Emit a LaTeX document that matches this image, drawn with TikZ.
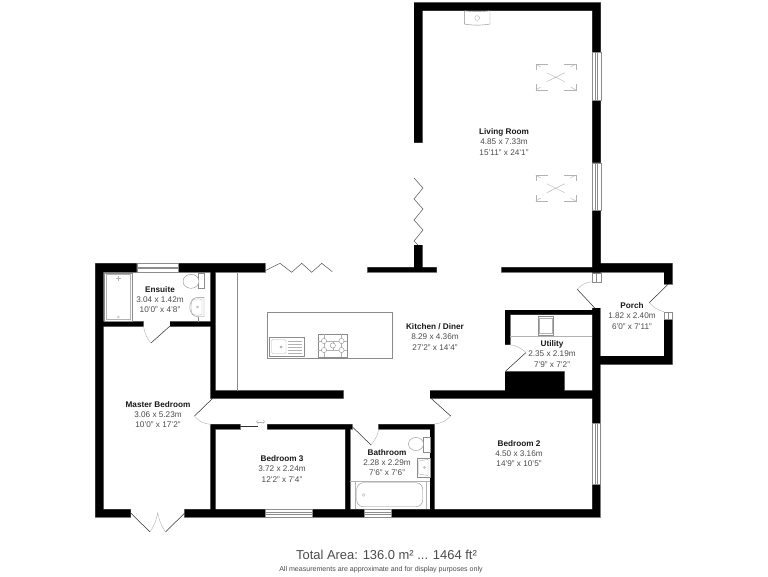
\documentclass[tikz,border=0pt]{standalone}
\usepackage{fontspec}
\setmainfont{Liberation Sans}
\newcommand{\wallset}[1]{\path[#1]
 (414,2.7) rectangle (600.7,10.7)
 (414,2.7) rectangle (422.3,142.7)
 (592.3,2.7) rectangle (600.7,52.3)
 (592.3,100) rectangle (600.7,162.7)
 (592.3,210) rectangle (600.7,272.7)
 (592.3,308) rectangle (600,517)
 (414,245) rectangle (422.3,272)
 (367.7,267.3) rectangle (436.7,272)
 (501.7,267.3) rectangle (600,272)
 (592.3,263.3) rectangle (672.3,272)
 (664,263.3) rectangle (672.3,284)
 (664,319) rectangle (672.3,364.3)
 (592.3,356) rectangle (672.3,364.3)
 (95.3,263.3) rectangle (136.7,272)
 (177.7,263.3) rectangle (265,272)
 (95.3,263.3) rectangle (103.3,517)
 (103,321.7) rectangle (143.3,326.3)
 (170,321.7) rectangle (211,326.3)
 (210.7,272) rectangle (215.3,398.3)
 (210.7,390.7) rectangle (343.3,398.3)
 (430,390.7) rectangle (600,398.3)
 (505,310) rectangle (592.3,314.7)
 (505,310) rectangle (510,344.7)
 (505,371.7) rectangle (564.3,391)
 (210.7,424.3) rectangle (240,429)
 (267.3,424.3) rectangle (352,429)
 (378.7,424.3) rectangle (434.3,429)
 (210.7,424.3) rectangle (215.3,510)
 (345.3,424.3) rectangle (350,510)
 (430,424.3) rectangle (434.3,510)
 (95.3,509.3) rectangle (130.7,517)
 (184.7,509.3) rectangle (265.3,517)
 (312.3,509.3) rectangle (364,517)
 (390.7,509.3) rectangle (600,517);}
\tikzset{
 fix/.style={draw=black!45,line width=.3pt,fill=white},
 thin line/.style={draw=black!45,line width=.3pt},
 leaf/.style={draw=black!80,line width=.4pt},
 swing/.style={draw=black!30,line width=.3pt},
 winline/.style={draw=black!45,line width=.3pt},
 roomlabel/.style={align=center,font=\fontsize{6.15}{7.55}\selectfont,text=black!70,inner sep=0pt},
}
\newcommand{\rl}[2]{{\bfseries\color{black!90}#1}\\#2}
\newcommand{\hwin}[4]{\draw[winline,fill=white] (#1,#3) rectangle (#2,#4);
 \draw[winline] (#1,{#3+(#4-#3)*.4}) -- (#2,{#3+(#4-#3)*.4}) (#1,{#3+(#4-#3)*.6}) -- (#2,{#3+(#4-#3)*.6});}
\newcommand{\vwin}[4]{\draw[winline,fill=white] (#1,#3) rectangle (#2,#4);
 \draw[winline] ({#1+(#2-#1)*.4},#3) -- ({#1+(#2-#1)*.4},#4) ({#1+(#2-#1)*.6},#3) -- ({#1+(#2-#1)*.6},#4);}
\newcommand{\skylight}[2]{\begin{scope}[shift={(#1,#2)}]
 \draw[swing] (0,6) -- (0,0) -- (12,0) (28,0) -- (40,0) -- (40,6)
   (0,20) -- (0,26) -- (12,26) (28,26) -- (40,26) -- (40,20);
 \draw[swing] (0,0) -- (5,3) (40,0) -- (35,3) (0,26) -- (5,23) (40,26) -- (35,23);
 \draw[swing] (11,8.7) -- (29,17.7) (11,17.7) -- (29,8.7);
 \end{scope}}
\begin{document}
\begin{tikzpicture}[x=.75pt,y=-.75pt]
\useasboundingbox (0,0) rectangle (768,576);
\fill[white] (0,0) rectangle (768,576);
\wallset{draw=black!45,line width=.5pt}
\wallset{fill=black}
% windows
\hwin{136.7}{177.7}{263.3}{272}
\hwin{265.3}{312.3}{509.3}{517}
\hwin{364}{390.7}{509.3}{517}
\vwin{592.3}{600.7}{52.3}{100}
\vwin{592.3}{600.7}{162.7}{210}
\vwin{592.3}{600}{423.3}{484.3}
% porch door jambs
\draw[winline,fill=white] (592.3,272.7) rectangle (600.7,281.7);
\draw[winline] (596.5,272.7) -- (596.5,281.7);
\draw[winline,fill=white] (664,311.7) rectangle (672.3,319);
\draw[winline] (668.2,311.7) -- (668.2,319);
% fireplace
\draw[thin line] (464.3,10.7) -- (464.3,24) .. controls (472,25.5) and (482,25.5) .. (490,24) -- (490,10.7) .. controls (482,12) and (472,12) .. (464.3,10.7);
\draw[swing] (477.2,18) circle (2.4);
\skylight{535.7}{64}
\skylight{535.7}{175}
% bifold doors
\draw[leaf,draw=black!65] (414,178) -- (423,188) -- (414,199) -- (423,209) -- (414,220) -- (423,230) -- (414,241) -- (418,245);
\draw[leaf,draw=black!65] (265,270.7) -- (280,263.3) -- (291.7,272.3) -- (301.7,263.3) -- (311.7,272.3) -- (321.7,263.3) -- (332.3,271.7);
% kitchen
\draw[thin line] (236.7,272) -- (236.7,391);
\draw[thin line] (267.3,312.3) rectangle (391.7,358.3);
% sink
\draw[fix] (269.3,337.3) rectangle (303.7,356);
\draw[swing,rounded corners=1pt] (271.5,339.5) rectangle (286,353.5);
\draw[thin line] (281,347) circle (1.2);
\foreach \yy in {341,344,347,350,353} \draw[swing] (288,\yy) -- (302,\yy);
% hob
\draw[fix] (318.3,334.3) rectangle (347,356.7);
\draw[swing] (318.3,341) -- (347,341) (318.3,350) -- (347,350) (324,334.3) -- (324,356.7) (341.5,334.3) -- (341.5,356.7) (332.8,341) -- (332.8,350);
\foreach \xx/\yy in {324/341,341.5/341,324/350,341.5/350,332.8/345.5} \draw[thin line,fill=white] (\xx,\yy) circle (2.6);
% ensuite
\draw[fix] (104.3,272.7) rectangle (132.3,320.7);
\draw[swing] (106,274.5) rectangle (130.5,319);
\draw[swing] (118.3,276) -- (118.3,281) (116,278) -- (120.6,278);
\draw[swing] (118.3,317) circle (1);
\draw[fix] (198.3,273.3) rectangle (204,288.3);
\draw[fix] (191,281.3) ellipse (8 and 7);
\draw[fix] (198,297.3) -- (204,297.3) -- (204,316.7) -- (198,316.7) .. controls (187,316.7) and (187,297.3) .. (198,297.3);
\draw[swing] (192.5,300) .. controls (194,298.5) and (202,298.5) .. (202,300) -- (202,314) .. controls (202,315.5) and (194,315.5) .. (192.5,314) .. controls (190.5,311) and (190.5,303) .. (192.5,300);
\draw[swing] (197.5,307) circle (1);
\draw[thin line] (198,316.7) -- (198,322);
% doors
\draw[leaf] (170,326) -- (151,343);
\draw[swing] (143.5,326) .. controls (144.5,333) and (147,339) .. (151,343);
\draw[leaf] (213,398) -- (194.5,416);
\draw[swing] (194.5,416) .. controls (198,421) and (204,424) .. (210.7,424.3);
\draw[leaf] (240,426.5) -- (258,426.5);
\draw[swing,<->,>=to] (256,421.7) -- (265,421.7);
\draw[leaf] (130.7,513) -- (150,532);
\draw[leaf] (184.7,513) -- (165.5,532);
\draw[swing] (150,532) .. controls (154,526) and (156.5,520) .. (157.7,513) .. controls (159,520) and (161.5,526) .. (165.5,532);
\draw[leaf] (352,426.5) -- (371,445);
\draw[swing] (371,445) .. controls (375,440) and (378,435) .. (378.7,429);
\draw[leaf] (431,398.3) -- (450.7,416);
\draw[swing] (450.7,416) .. controls (446,421) and (441,423.5) .. (434.3,424);
\draw[leaf] (505.7,371) -- (526,352.5);
\draw[swing] (526,352.5) .. controls (521,348) and (516,345.5) .. (510,344.7);
\draw[leaf] (595,308.3) -- (577.3,289.3);
\draw[swing] (577.3,289.3) .. controls (581,285) and (586,282) .. (592.3,281.7);
\draw[leaf] (668.3,284) -- (649.3,302.7);
\draw[swing] (649.3,302.7) .. controls (653,307) and (658,310.5) .. (664,311.7);
% utility
\draw[swing] (510,335.7) -- (592.3,335.7);
\draw[fix] (537.7,315.7) rectangle (553.3,335);
\draw[swing] (539.2,318) rectangle (551.8,333.5);
\draw[swing] (537.7,317.8) -- (553.3,317.8);
% bathroom
\draw[swing] (350,480.7) -- (430,480.7) (355,480.7) -- (355,509.3) (426,480.7) -- (426,509.3);
\draw[thin line,rounded corners=5pt] (356.7,482.7) rectangle (422.7,506.7);
\draw[swing] (363.5,495) circle (1.3);
\draw[fix] (423.3,436.7) rectangle (429.7,451.7);
\draw[fix] (416,444) ellipse (7.5 and 6.5);
\draw[fix] (416.7,458.3) rectangle (429.7,476.7);
\draw[swing] (418.5,461) -- (428,459.5) -- (428,475.5) -- (418.5,474) -- cycle;
\draw[swing] (424.5,467.5) circle (1);
% labels
\node[roomlabel] (living) at (504,142) {\rl{Living Room}{4.85 x 7.33m\\15'11" x 24'1"}};
\node[roomlabel] (kitchen) at (435,337) {\rl{Kitchen / Diner}{8.29 x 4.36m\\27'2" x 14'4"}};
\node[roomlabel] (ensuite) at (160,299.5) {\rl{Ensuite}{3.04 x 1.42m\\10'0" x 4'8"}};
\node[roomlabel] (master) at (158,414.5) {\rl{Master Bedroom}{3.06 x 5.23m\\10'0" x 17'2"}};
\node[roomlabel] (bedthree) at (282,469) {\rl{Bedroom 3}{3.72 x 2.24m\\12'2" x 7'4"}};
\node[roomlabel] (bathroom) at (387,462.5) {\rl{Bathroom}{2.28 x 2.29m\\7'6" x 7'6"}};
\node[roomlabel] (bedtwo) at (519,453.5) {\rl{Bedroom 2}{4.50 x 3.16m\\14'9" x 10'5"}};
\node[roomlabel] (utility) at (552,354) {\rl{Utility}{2.35 x 2.19m\\7'9" x 7'2"}};
\node[roomlabel] (porch) at (632,316) {\rl{Porch}{1.82 x 2.40m\\6'0" x 7'11"}};
\node[inner sep=0pt,font=\fontsize{9.7}{11}\selectfont,text=black!70] (total) at (386.5,555) {Total Area: 136.0 m² ... 1464 ft²};
\node[inner sep=0pt,font=\fontsize{5.3}{6}\selectfont,text=black!70] (note) at (381,570) {All measurements are approximate and for display purposes only};
\end{tikzpicture}
\end{document}
